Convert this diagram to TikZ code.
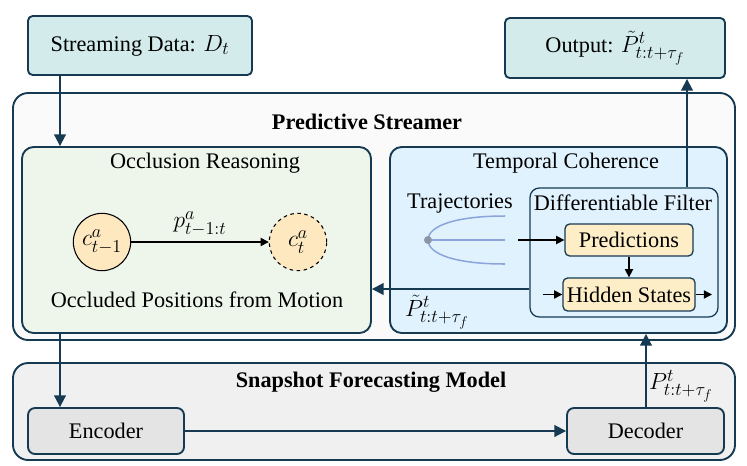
\RequirePackage{fix-cm}
\documentclass[tikz,border=0pt]{standalone}
\usepackage{amsmath,amssymb}
\usepackage{fontspec}
\setmainfont{Liberation Serif}
\usetikzlibrary{arrows.meta,calc,positioning}
\DeclareMathSizes{19}{20}{15.5}{12}

\definecolor{navy}{RGB}{22,58,82}
\definecolor{tealbg}{RGB}{211,236,235}
\definecolor{streambg}{RGB}{250,250,250}
\definecolor{occlbg}{RGB}{238,245,234}
\definecolor{tempbg}{RGB}{224,242,253}
\definecolor{orangebg}{RGB}{253,238,200}
\definecolor{circbg}{RGB}{253,232,192}
\definecolor{snapbg}{RGB}{240,240,240}
\definecolor{codebg}{RGB}{228,228,228}
\definecolor{trajblue}{RGB}{140,166,220}
\definecolor{dotgray}{RGB}{138,150,168}

\begin{document}
\begin{tikzpicture}[x=0.03cm,y=-0.03cm,
  font=\fontsize{19}{23}\selectfont,
  iobox/.style={draw=navy,line width=1.6pt,rounded corners=4pt,fill=tealbg},
  panel/.style={draw=navy,line width=1.6pt,rounded corners=13pt},
  subpanel/.style={draw=navy,line width=1.6pt,rounded corners=10pt},
  smallbox/.style={draw=navy,line width=1.1pt,rounded corners=4pt,fill=orangebg},
  codebox/.style={draw=navy,line width=1.6pt,rounded corners=6pt,fill=codebg},
  agent/.style={circle,draw=black,line width=0.9pt,fill=circbg,minimum size=1.72cm,inner sep=0pt},
  navyarr/.style={navy,line width=1.6pt,-{Triangle[length=10pt,width=10pt]}},
  blackarr/.style={black,line width=1.2pt,-{Triangle[length=7pt,width=7pt]}}]
  \useasboundingbox (0,0) rectangle (747,465);

  % input / output
  \node[iobox,minimum width=6.72cm,minimum height=1.77cm] (data) at (140,45.5) {Streaming Data: $D_t$};
  \node[iobox,minimum width=6.6cm,minimum height=1.8cm] (output) at (615,48) {Output: $\tilde{P}^{t}_{t:t+\tau_f}$};

  % predictive streamer
  \node[panel,fill=streambg,minimum width=21.66cm,minimum height=7.41cm] (streamer) at (374,216.5) {};
  \node[font=\fontsize{19}{23}\selectfont\bfseries] (streamtitle) at (367,122) {Predictive Streamer};

  \node[subpanel,fill=occlbg,minimum width=10.47cm,minimum height=5.58cm] (occl) at (196.5,240) {};
  \node (occltitle) at (205,163) {Occlusion Reasoning};
  \node[agent] (cprev) at (102,242) {$c^{a}_{t-1}$};
  \node[agent,dashed] (ccur) at (298,242) {$c^{a}_{t}$};
  \draw[blackarr] (cprev) -- node[above=1pt] (plabel) {$p^{a}_{t-1:t}$} (ccur);
  \node (occlnote) at (197,300) {Occluded Positions from Motion};

  \node[subpanel,fill=tempbg,minimum width=10.11cm,minimum height=5.58cm] (temp) at (558.5,240) {};
  \node (temptitle) at (566,163) {Temporal Coherence};
  \node (trajtitle) at (460,203) {Trajectories};
  \draw[trajblue,line width=1.3pt] (505,216) .. controls (455,216) and (428,226) .. (428,240)
    .. controls (428,254) and (455,264) .. (505,264);
  \draw[trajblue,line width=1.3pt] (428,240) -- (505,240);
  \fill[dotgray] (428,240) circle (4);

  \node[draw=navy,line width=1.1pt,rounded corners=8pt,fill=tempbg,minimum width=5.64cm,minimum height=3.87cm] (filter) at (624,252.5) {};
  \node (filtertitle) at (623,203) {Differentiable Filter};
  \node[smallbox,minimum width=3.84cm,minimum height=0.96cm] (pred) at (629,240) {Predictions};
  \node[smallbox,minimum width=3.84cm,minimum height=0.99cm] (hidden) at (629,294.5) {Hidden States};

  \coordinate (trajout) at (518,240);
  \coordinate (hidin) at (543,294.5);
  \coordinate (hidout) at (712,294.5);
  \draw[blackarr] (trajout) -- (pred.west);
  \draw[blackarr] (pred.south) -- (hidden.north);
  \draw[blackarr] (hidin) -- (hidden.west);
  \draw[blackarr] (hidden.east) -- (hidout);

  % snapshot forecasting model
  \node[panel,fill=snapbg,minimum width=21.66cm,minimum height=2.91cm] (snap) at (374,411.5) {};
  \node[font=\fontsize{19}{23}\selectfont\bfseries] (snaptitle) at (371,382) {Snapshot Forecasting Model};
  \node[codebox,minimum width=4.68cm,minimum height=1.38cm] (enc) at (106,431) {Encoder};
  \node[codebox,minimum width=4.71cm,minimum height=1.38cm] (dec) at (645.5,431) {Decoder};

  % connectors
  \coordinate (leftx) at (60,0);
  \coordinate (rightx) at (646,0);
  \coordinate (outx) at (687,0);
  \coordinate (backy) at (0,289);
  \draw[navyarr] (leftx |- data.south) -- (leftx |- occl.north);
  \draw[navyarr] (leftx |- occl.south) -- (leftx |- enc.north);
  \draw[navyarr] (enc.east) -- (dec.west);
  \draw[navyarr] (rightx |- dec.north) -- (rightx |- temp.south);
  \node[anchor=west] (plain) at (645,386) {$P^{t}_{t:t+\tau_f}$};
  \draw[navyarr] (outx |- filter.north) -- (outx |- output.south);
  \draw[navyarr] (filter.west |- backy) -- (occl.east |- backy);
  \node (ptilde) at (437,312) {$\tilde{P}^{t}_{t:t+\tau_f}$};
\end{tikzpicture}
\end{document}
